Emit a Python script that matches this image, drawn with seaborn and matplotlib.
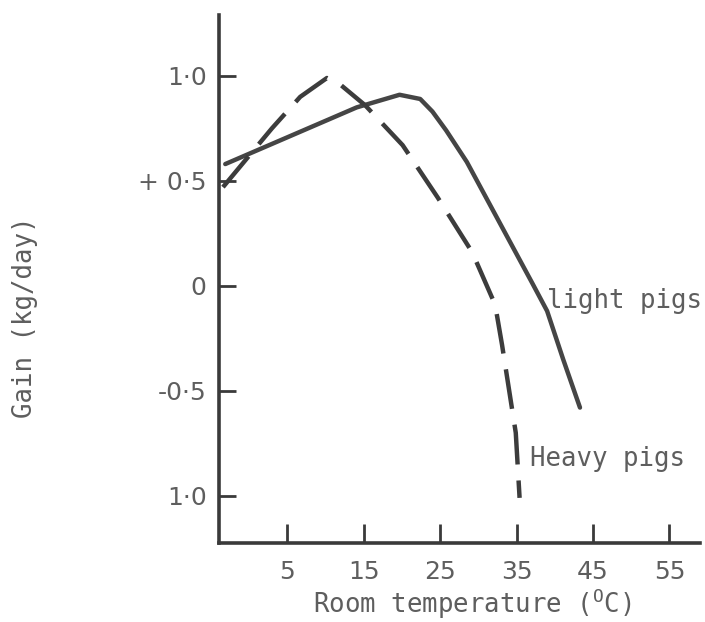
import matplotlib
matplotlib.use("Agg")
import matplotlib.pyplot as plt
import seaborn as sns
import pandas as pd

# ---- data ----
light_x = [-3.1, 14.1, 19.7, 22.4, 24.0, 25.8, 28.5, 32.8, 37.1, 39.0, 41.1, 43.3]
light_y = [0.58, 0.85, 0.91, 0.89, 0.83, 0.74, 0.59, 0.30, 0.01, -0.12, -0.35, -0.58]

heavy_x = [-3.4, 3.0, 6.7, 10.2, 11.9, 15.2, 20.1, 24.7, 29.2, 32.2, 33.1, 34.9, 35.4]
heavy_y = [0.47, 0.75, 0.90, 0.99, 0.96, 0.86, 0.67, 0.42, 0.16, -0.09, -0.28, -0.70, -1.01]

x_ticks = [5, 15, 25, 35, 45, 55]
y_ticks = [1.0, 0.5, 0.0, -0.5, -1.0]
y_tick_labels = ["1·0", "+ 0·5", "0", "-0·5", "1·0"]

series_names = ["light pigs", "Heavy pigs"]

df = pd.concat([
    pd.DataFrame({"temp": light_x, "gain": light_y, "series": series_names[0]}),
    pd.DataFrame({"temp": heavy_x, "gain": heavy_y, "series": series_names[1]}),
], ignore_index=True)

sns.set_style("white")
plt.rcParams["font.family"] = ["DejaVu Sans"]

LINE = "#454545"
AXC = "#3a3a3a"
TXT = "#5e5e5e"
MONO = "DejaVu Sans Mono"

fig = plt.figure(figsize=(7.05, 6.22), dpi=100)
ax = fig.add_axes([219 / 705, 1 - 543 / 622, (700 - 219) / 705, (543 - 15) / 622])

sns.lineplot(
    data=df, x="temp", y="gain", hue="series", style="series",
    palette={series_names[0]: LINE, series_names[1]: "#3c3c3c"},
    dashes={series_names[0]: "", series_names[1]: (9.0, 3.6)},
    estimator=None, sort=False, linewidth=3.2, legend=False, ax=ax,
)
for ln in ax.get_lines():
    ln.set_solid_capstyle("round")
    ln.set_solid_joinstyle("round")
    ln.set_dash_capstyle("butt")

ax.set_xlim(-3.92, 59.0)
ax.set_ylim(-1.225, 1.29)

ax.set_xticks(x_ticks)
ax.set_xticklabels([str(v) for v in x_ticks])
ax.set_yticks(y_ticks)
ax.set_yticklabels(y_tick_labels)

for s in ["top", "right"]:
    ax.spines[s].set_visible(False)
for s in ["left", "bottom"]:
    ax.spines[s].set_linewidth(2.6)
    ax.spines[s].set_color(AXC)

ax.tick_params(axis="y", left=True, direction="in", length=12, width=2.0, color=AXC,
               pad=9, labelsize=18, labelcolor=TXT)
ax.tick_params(axis="x", bottom=True, direction="in", length=14, width=2.0, color=AXC,
               pad=12, labelsize=18, labelcolor=TXT)

ax.set_xlabel("")
ax.set_ylabel("")

# curve labels
ax.text(39.0, -0.106, "light pigs", family=MONO, fontsize=18.5, color=TXT,
        ha="left", va="baseline")
ax.text(36.7, -0.858, "Heavy pigs", family=MONO, fontsize=18.5, color=TXT,
        ha="left", va="baseline")

# axis titles
fig.text(472 / 705, 1 - 613 / 622, r"Room temperature ($^{\mathregular{O}}$C)",
         family=MONO, fontsize=18.5, color=TXT, ha="center", va="baseline")
fig.text(25 / 705, 1 - 317 / 622, "Gain (kg/day)", family=MONO, fontsize=18.5,
         color=TXT, ha="center", va="center", rotation=90)

fig.savefig("out.png", dpi=100)
